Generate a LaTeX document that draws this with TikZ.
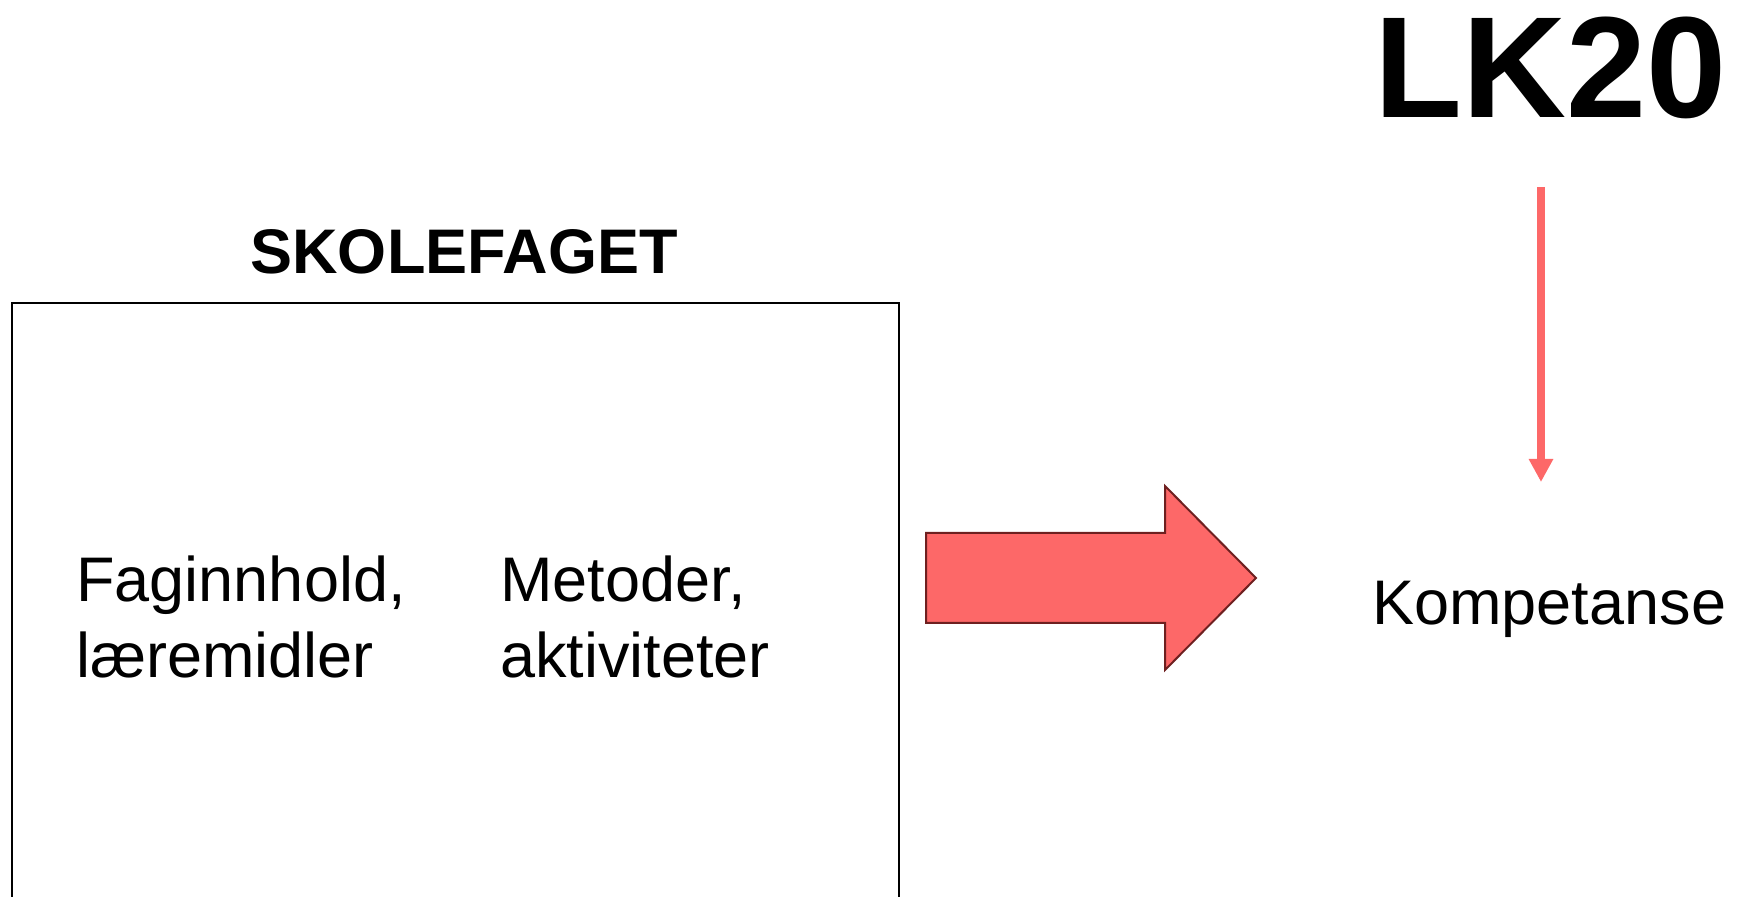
\documentclass[tikz,border=0pt]{standalone}
\usepackage{fontspec}
\setmainfont{Liberation Sans}
\definecolor{salmon}{RGB}{253,104,104}
\definecolor{darkrim}{RGB}{110,32,32}
\tikzset{
  txt/.style={inner sep=0pt, font=\fontsize{31.5}{38}\selectfont, align=left},
  bigarrow/.style={fill=salmon, draw=darkrim, line width=1pt, line join=miter},
  thinarrow/.style={draw=salmon, line width=4pt, -{Triangle[width=11.5pt,length=11.5pt]}}
}
\usetikzlibrary{arrows.meta}
\begin{document}
\begin{tikzpicture}[x=0.5pt,y=-0.5pt]
      \useasboundingbox (0,0) rectangle (1737,897);

      % SKOLEFAGET - the big box, its bottom runs off the page
      \node[draw, line width=1pt, inner sep=0pt, anchor=north west, minimum width=443.5pt, minimum height=340pt] (fag) at (11,302) {};
      \node[txt, font=\fontsize{31.5}{38}\selectfont\bfseries, anchor=base] (fagtitle) at (464,274) {SKOLEFAGET};

      % the two columns inside the box (base = last line)
      \node[txt, anchor=base west] (innhold) at (76,678) {Faginnhold,\\læremidler};
      \node[txt, anchor=base west] (metoder) at (500,678) {Metoder,\\aktiviteter};

      % big arrow towards Kompetanse
      \draw[bigarrow] (926,533) -- (1165,533) -- (1165,486) -- (1256,578) -- (1165,670) -- (1165,623) -- (926,623) -- cycle;

      % LK20 and Kompetanse on the right
      \node[txt, font=\fontsize{72}{80}\selectfont\bfseries, anchor=base west] (lk) at (1374,118) {LK20};
      \node[txt, anchor=base west] (komp) at (1372,625) {Kompetanse};
      \coordinate (lkfoot) at (1541,187);
      \coordinate (kompfoot) at (1541,482);
      \draw[thinarrow] (lkfoot) -- (kompfoot);
    \end{tikzpicture}
\end{document}
